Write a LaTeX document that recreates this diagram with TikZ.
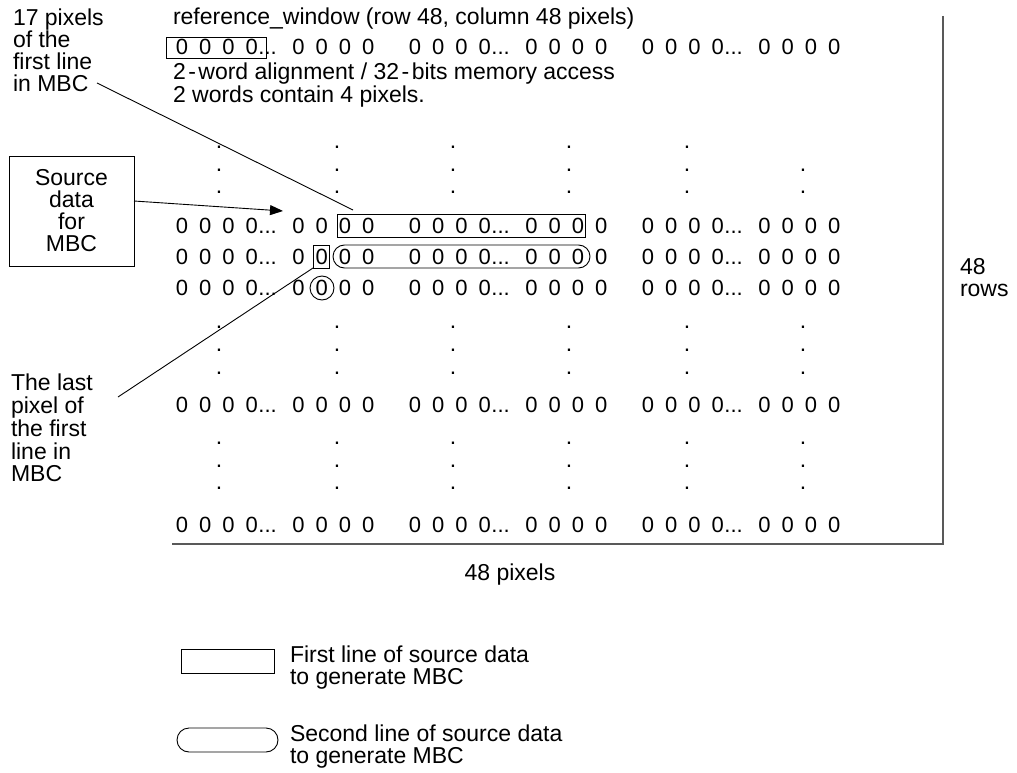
\documentclass[tikz,border=0pt]{standalone}
\usepackage{fontspec}
\setmainfont{Liberation Sans}
\usetikzlibrary{arrows.meta}

% one pixel value per fixed-width slot, so every row lines up
\newlength\slotw
\setlength\slotw{23.3pt}
\newcommand\zd{\makebox[\slotw][c]{0}}
\newcommand\zdots{\makebox[\slotw][l]{\kern-5pt...}}
\newcommand\zgroup{\zd\zd\zd\zd\zdots\zd\zd\zd\zd}
\newcommand\zline{\zgroup\hspace*{\slotw}\zgroup\hspace*{\slotw}\zgroup}

\begin{document}
\begin{tikzpicture}[x=1pt,y=-1pt,
  every node/.style={inner sep=0pt, outer sep=0pt, font=\fontsize{23}{22}\selectfont},
  txt/.style={anchor=base west},
  lbl/.style={align=left, anchor=north west},
  zrow/.style={anchor=west, font=\fontsize{22}{22}\selectfont},
  hilite/.style={draw, line width=0.9pt, inner sep=0pt},
  conn/.style={line width=0.9pt},
  frameline/.style={draw=black!65, line width=1.8pt}]
\useasboundingbox[fill=white] (0,0) rectangle (1017,773);

% heading and first row of the window
\node[txt] (title) at (173,25) {reference\_window (row 48, column 48 pixels)};
\node[zrow] (row0) at (170.3,47) {\zline};
\node[hilite, minimum width=100pt, minimum height=21pt] (topbox) at (216,47.5) {};
\node[txt] (align) at (173,80) {2\kern2.5pt-\kern2.5pt word alignment / 32\kern2.5pt-\kern2.5pt bits memory access};
\node[txt] (words) at (173,103) {2 words contain 4 pixels.};

% vertical ellipsis columns
\foreach \x [count=\i] in {219,337,453,569,687}
  \node (da1-\i) at (\x,147) {.};
\foreach \y/\r in {170/a2,192/a3,327/b1,350/b2,373/b3,443/c1,466/c2,488/c3}
  \foreach \x [count=\i] in {219,337,453,569,687,803}
    \node (d\r-\i) at (\x,\y) {.};

% pixel rows
\foreach \y [count=\i] in {226,257,288,405,525}
  \node[zrow] (row\i) at (170.3,\y) {\zline};

% source lines for MBC
\node[hilite, minimum width=248pt, minimum height=23pt] (first) at (461,225.5) {};
\node[hilite, minimum width=16pt, minimum height=23pt] (last) at (321,256.5) {};
\node[hilite, rounded corners=11.5pt, minimum width=257pt, minimum height=23pt] (second) at (461.5,256.5) {};
\node[hilite, circle, minimum size=24pt] (lastcirc) at (322,288) {};

% window frame
\coordinate (frTop) at (943,16);
\coordinate (frCorner) at (943,544);
\coordinate (frLeft) at (172,544);
\draw[frameline] (frTop) -- (frCorner) -- (frLeft);
\node[anchor=base] (px48) at (510,580) {48 pixels};
\node[lbl] (rows48) at (960,258) {48\\rows};

% side labels
\node[lbl] (lab17) at (13,9) {17 pixels\\of the\\first line\\in MBC};
\node[lbl, font=\fontsize{23}{22.8}\selectfont] (labLast) at (11,374) {The last\\pixel of\\the first\\line in\\MBC};
\node[draw, line width=0.9pt, align=center, minimum width=125pt, minimum height=110pt] (src) at (71.5,211) {Source\\data\\for\\MBC};

% connectors
\coordinate (tipSrc) at (283,211);
\draw[conn, -{Triangle[length=13pt, width=10pt]}] ([yshift=10pt]src.east) -- (tipSrc);
\coordinate (from17) at (97,83);
\coordinate (to17) at (353,210);
\draw[conn] (from17) -- (to17);
\coordinate (fromLast) at (118,397);
\draw[conn] (fromLast) -- (last.south west);

% legend
\node[hilite, minimum width=93pt, minimum height=24pt] (keyFirst) at (227.5,661) {};
\node[lbl] (keyFirstTxt) at (290,646) {First line of source data\\to generate MBC};
\node[hilite, rounded corners=12pt, minimum width=101pt, minimum height=24pt] (keySecond) at (227.5,740) {};
\node[lbl] (keySecondTxt) at (290,725) {Second line of source data\\to generate MBC};
\end{tikzpicture}
\end{document}
